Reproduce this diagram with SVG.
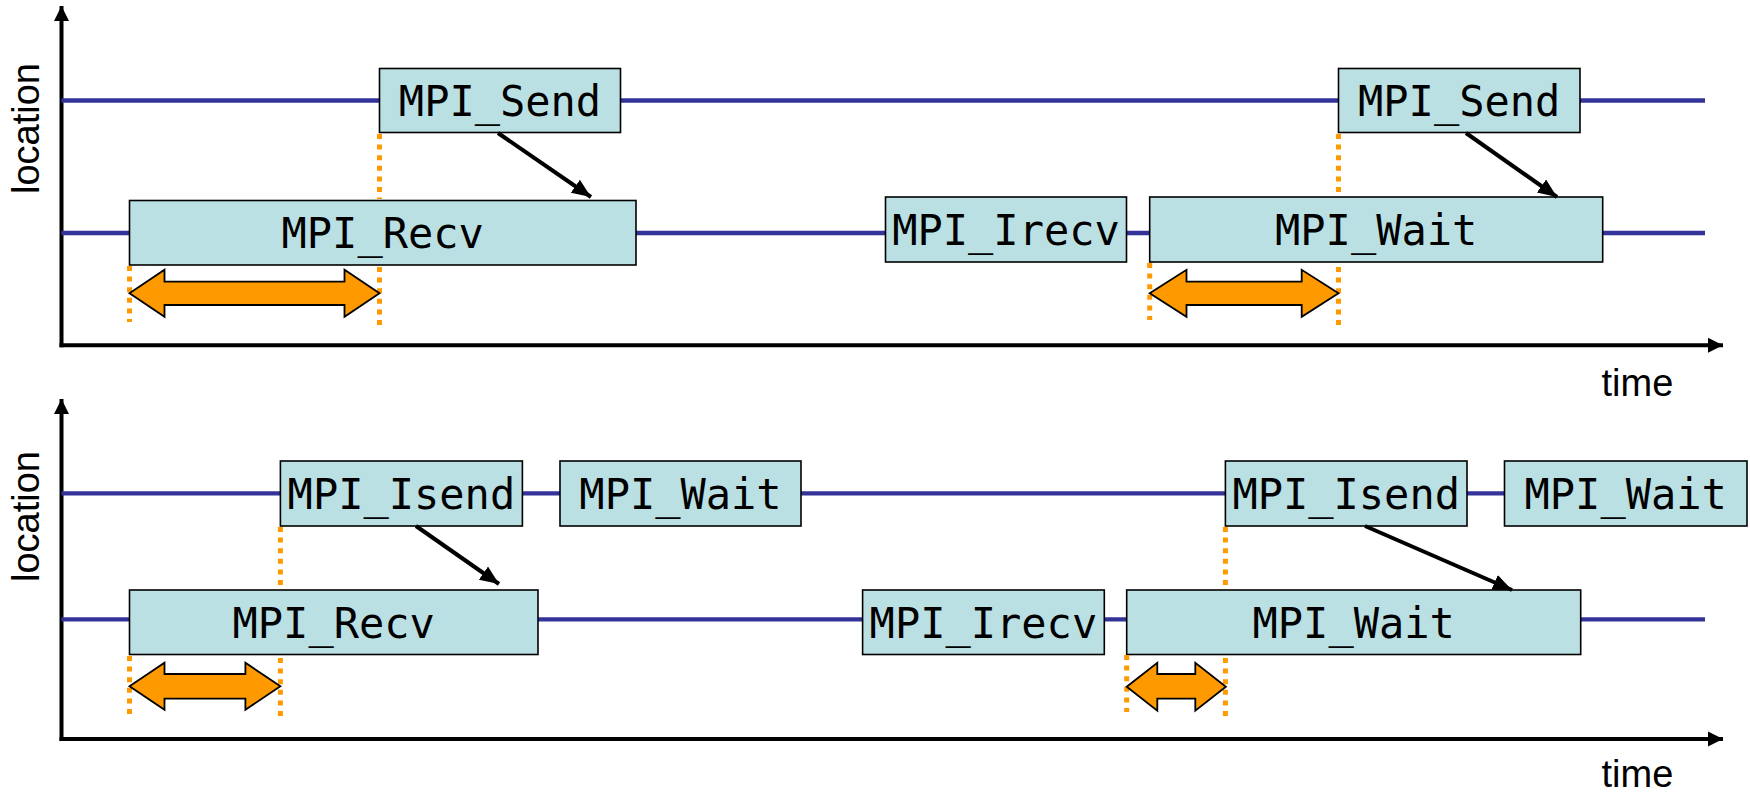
<svg xmlns="http://www.w3.org/2000/svg" width="1750" height="793" viewBox="0 0 1750 793">
<style>
.tl{stroke:#333399;stroke-width:4.3;fill:none}
.ax{stroke:#000;stroke-width:4;fill:none}
.box{fill:#bbe0e3;stroke:#000;stroke-width:1.6}
.lbl{font-family:"DejaVu Sans Mono",monospace;font-size:42px;text-anchor:middle;fill:#000}
.axl{font-family:"Liberation Sans",Arial,sans-serif;font-size:38px;fill:#000}
.dot{stroke:#ff9900;stroke-width:5;stroke-dasharray:5 5.6;fill:none}
.dbl{fill:#ff9900;stroke:#000;stroke-width:1.8;stroke-linejoin:miter}
.msg{stroke:#000;stroke-width:4;fill:none}
</style>
<defs>
<marker id="axh" markerUnits="userSpaceOnUse" markerWidth="16" markerHeight="16" viewBox="0 0 16 16" refX="15" refY="8" orient="auto">
<path d="M0,0.5 L15,8 L0,15.5 Z" fill="#000"/>
</marker>
<marker id="msh" markerUnits="userSpaceOnUse" markerWidth="20" markerHeight="18" viewBox="0 0 20 18" refX="19" refY="9" orient="auto">
<path d="M0,1 L19,9 L0,17 Z" fill="#000"/>
</marker>
</defs>

<g id="axes">
<line class="ax" x1="61.5" y1="347.3" x2="61.5" y2="6" marker-end="url(#axh)"/>
<line class="ax" x1="59.5" y1="345.3" x2="1723" y2="345.3" marker-end="url(#axh)"/>
<text class="axl" transform="translate(39,128.5) rotate(-90)" text-anchor="middle">location</text>
<text class="axl" x="1601.5" y="396">time</text>
<line class="ax" x1="61.5" y1="741" x2="61.5" y2="399" marker-end="url(#axh)"/>
<line class="ax" x1="59.5" y1="739" x2="1723" y2="739" marker-end="url(#axh)"/>
<text class="axl" transform="translate(39,516.5) rotate(-90)" text-anchor="middle">location</text>
<text class="axl" x="1601.5" y="787">time</text>
</g>

<g id="timelines">
<line class="tl" x1="61.5" y1="100.5" x2="1705" y2="100.5"/>
<line class="tl" x1="61.5" y1="233" x2="1705" y2="233"/>
<line class="tl" x1="61.5" y1="493.3" x2="1705" y2="493.3"/>
<line class="tl" x1="61.5" y1="619.3" x2="1705" y2="619.3"/>
</g>

<g id="top-send1"><rect class="box" x="379.5" y="68.5" width="241" height="64"/><text class="lbl" x="500" y="115.5">MPI_Send</text></g>
<g id="top-recv"><rect class="box" x="129.5" y="200.5" width="506.5" height="64.5"/><text class="lbl" x="382.7" y="248">MPI_Recv</text></g>
<g id="top-irecv"><rect class="box" x="885.5" y="197" width="241" height="65"/><text class="lbl" x="1006" y="245">MPI_Irecv</text></g>
<g id="top-wait"><rect class="box" x="1149.7" y="197" width="453" height="65"/><text class="lbl" x="1376.2" y="245">MPI_Wait</text></g>
<g id="top-send2"><rect class="box" x="1338.5" y="68.5" width="241.5" height="64"/><text class="lbl" x="1459.2" y="115.5">MPI_Send</text></g>

<g id="bot-isend1"><rect class="box" x="280.4" y="461" width="242" height="65"/><text class="lbl" x="401.4" y="509">MPI_Isend</text></g>
<g id="bot-wait1"><rect class="box" x="560" y="461" width="241" height="65"/><text class="lbl" x="680.5" y="509">MPI_Wait</text></g>
<g id="bot-recv"><rect class="box" x="129.5" y="590" width="408.5" height="64.5"/><text class="lbl" x="333.7" y="637.5">MPI_Recv</text></g>
<g id="bot-irecv"><rect class="box" x="862.6" y="590" width="241.7" height="64.5"/><text class="lbl" x="983.4" y="637.5">MPI_Irecv</text></g>
<g id="bot-wait2"><rect class="box" x="1126.7" y="590" width="454" height="64.5"/><text class="lbl" x="1353.7" y="637.5">MPI_Wait</text></g>
<g id="bot-isend2"><rect class="box" x="1225.4" y="461" width="241.6" height="65"/><text class="lbl" x="1346.2" y="509">MPI_Isend</text></g>
<g id="bot-wait3"><rect class="box" x="1504.5" y="461" width="242.5" height="65"/><text class="lbl" x="1625.7" y="509">MPI_Wait</text></g>

<g id="connectors">
<line class="dot" x1="129.5" y1="266" x2="129.5" y2="322"/>
<line class="dot" x1="379.5" y1="134" x2="379.5" y2="199"/>
<line class="dot" x1="379.5" y1="267" x2="379.5" y2="325"/>
<line class="dot" x1="1149.7" y1="263" x2="1149.7" y2="320"/>
<line class="dot" x1="1338.5" y1="134" x2="1338.5" y2="197"/>
<line class="dot" x1="1338.5" y1="267" x2="1338.5" y2="325"/>
<line class="dot" x1="129.5" y1="656" x2="129.5" y2="716"/>
<line class="dot" x1="280.4" y1="527" x2="280.4" y2="590"/>
<line class="dot" x1="280.4" y1="658" x2="280.4" y2="718"/>
<line class="dot" x1="1126.7" y1="655" x2="1126.7" y2="712"/>
<line class="dot" x1="1225.4" y1="527" x2="1225.4" y2="590"/>
<line class="dot" x1="1225.4" y1="658" x2="1225.4" y2="718"/>

<polygon class="dbl" points="129.5,293.3 164.5,269.8 164.5,281.6 344.5,281.6 344.5,269.8 379.5,293.3 344.5,316.8 344.5,305 164.5,305 164.5,316.8"/>
<polygon class="dbl" points="1149.7,293.3 1186.5,269.8 1186.5,281.6 1301.7,281.6 1301.7,269.8 1338.5,293.3 1301.7,316.8 1301.7,305 1186.5,305 1186.5,316.8"/>
<polygon class="dbl" points="129.5,686.3 164.5,662.8 164.5,674 245.4,674 245.4,662.8 280.4,686.3 245.4,709.8 245.4,698.6 164.5,698.6 164.5,709.8"/>
<polygon class="dbl" points="1126.7,686.7 1157.3,662.8 1157.3,674 1195.3,674 1195.3,662.8 1225.9,686.7 1195.3,710.6 1195.3,698.6 1157.3,698.6 1157.3,710.6"/>

<line class="msg" x1="498" y1="133" x2="591" y2="197" marker-end="url(#msh)"/>
<line class="msg" x1="1466" y1="133" x2="1557" y2="197" marker-end="url(#msh)"/>
<line class="msg" x1="416" y1="526" x2="499" y2="584" marker-end="url(#msh)"/>
<line class="msg" x1="1365" y1="526" x2="1512" y2="590" marker-end="url(#msh)"/>
</g>
</svg>
